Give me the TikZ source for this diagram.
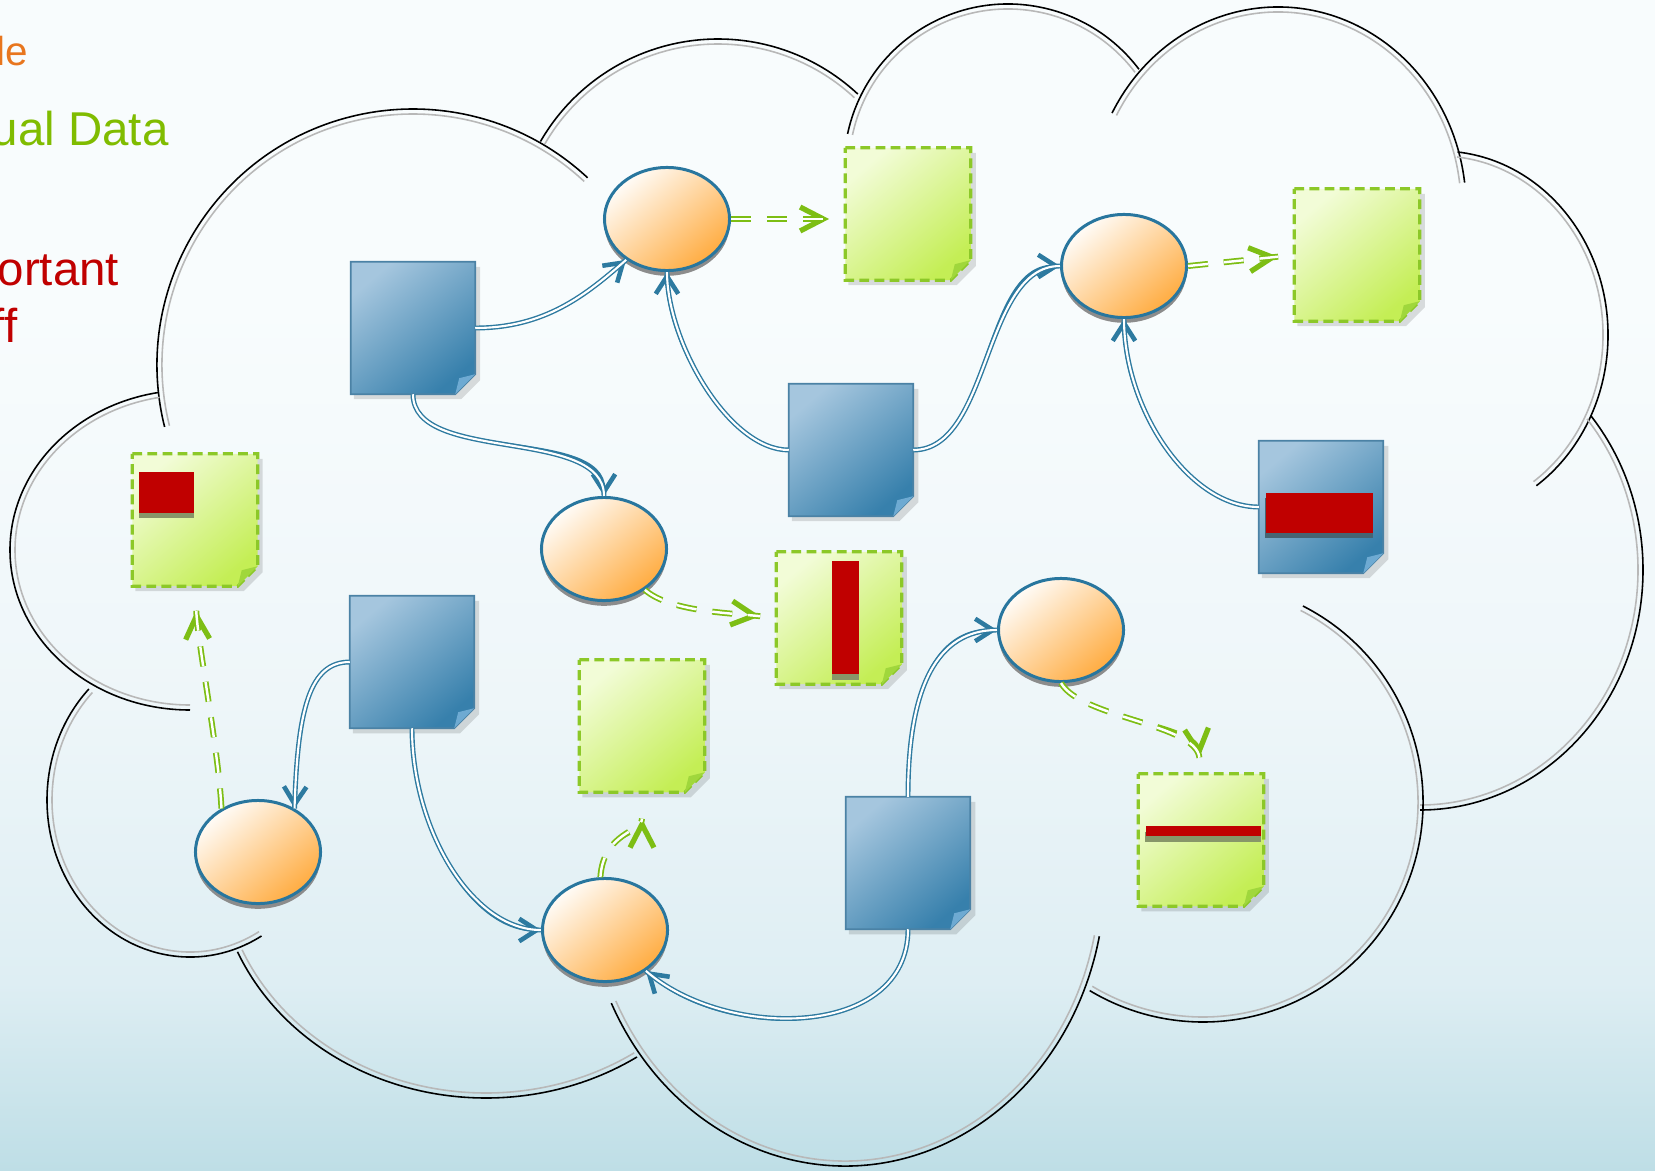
\documentclass[tikz,border=0pt]{standalone}
\usepackage{fontspec}
\setmainfont{Liberation Sans}
\usetikzlibrary{shapes.geometric,arrows.meta,shadows}

\definecolor{bgtop}{RGB}{248,252,253}
\definecolor{bgmid}{RGB}{238,246,249}
\definecolor{bglow}{RGB}{222,238,243}
\definecolor{bgbot}{RGB}{190,222,230}
\definecolor{flowblue}{RGB}{45,122,160}
\definecolor{flowgreen}{RGB}{125,190,20}
\definecolor{docA}{RGB}{165,198,222}
\definecolor{docB}{RGB}{55,128,172}
\definecolor{docedge}{RGB}{75,130,165}
\definecolor{docfoldc}{RGB}{110,170,210}
\definecolor{noteA}{RGB}{242,252,215}
\definecolor{noteB}{RGB}{196,238,85}
\definecolor{noteedge}{RGB}{140,200,40}
\definecolor{notefoldc}{RGB}{160,215,60}
\definecolor{procA}{RGB}{255,252,248}
\definecolor{procB}{RGB}{255,172,65}
\definecolor{procedge}{RGB}{40,118,158}
\definecolor{markred}{RGB}{192,0,0}
\definecolor{markshade}{RGB}{135,150,105}
\definecolor{markshadeb}{RGB}{70,100,115}
\definecolor{txtorange}{RGB}{232,118,30}
\definecolor{txtgreen}{RGB}{128,188,0}

\pgfdeclareverticalshading{slidebg}{100bp}{color(0bp)=(bgbot); color(25bp)=(bgbot); color(33bp)=(bglow); color(45bp)=(bgmid); color(62bp)=(bgtop); color(100bp)=(bgtop)}

\tikzset{
  docbox/.style={rectangle, inner sep=0pt, minimum width=1.23cm, minimum height=1.31cm},
  notebox/.style={rectangle, inner sep=0pt, minimum width=1.24cm, minimum height=1.31cm},
  docfill/.style={top color=docA, bottom color=docB, shading angle=40, draw=docedge, line width=0.45pt},
  notefill/.style={top color=noteA, bottom color=noteB, shading angle=40, draw=noteedge, line width=0.9pt, dash pattern=on 2.8pt off 1.5pt},
  proc/.style={ellipse, inner sep=0pt, minimum width=1.25cm, minimum height=1.03cm, draw=procedge, line width=0.85pt, top color=procA, bottom color=procB, shading angle=40, drop shadow={shadow xshift=0pt, shadow yshift=-1.5pt, opacity=1, fill=black!45}},
  % double lines; the solid tip comes from a plain pre-pass
  feed/.style={draw=flowblue, line width=0.4pt, double=white, double distance=0.6pt,
    preaction={draw=flowblue, line width=0.8pt, -{Straight Barb[length=5pt,width=6.4pt,line width=1.3pt]}}},
  yield/.style={draw=flowgreen, line width=0.5pt, double=white, double distance=0.7pt, dash pattern=on 5.7pt off 4.5pt, shorten >=#1,
    preaction={draw=flowgreen, line width=1pt, dash pattern=on 5.7pt off 4.5pt, shorten >=#1, -{Straight Barb[length=6.6pt,width=6.8pt,line width=1.5pt]}}},
  yield/.default=4.6pt,
  cloudline/.style={black, line width=0.45pt},
  cloudinner/.style={black!28, line width=0.45pt},
  slidetext/.style={anchor=base west, inner sep=0pt},
}

% blue source page with dog-ear, drawn round a named node
\newcommand{\srcdoc}[2]{%
  \node[docbox] (#1) at (#2) {};
  \fill[black, opacity=.13] ([shift={(3,5)}]#1.north west) -- ([shift={(5,5)}]#1.north east)
    -- ([shift={(5,-14)}]#1.south east) -- ([shift={(-14,5)}]#1.south east)
    -- ([shift={(3,5)}]#1.south west) -- cycle;
  \path[docfill] (#1.north west) -- (#1.north east) -- ([shift={(0,-20)}]#1.south east)
    -- ([shift={(-20,0)}]#1.south east) -- (#1.south west) -- cycle;
  \fill[docfoldc] ([shift={(0,-20)}]#1.south east) -- ([shift={(-20,0)}]#1.south east)
    -- ([shift={(-16,-16)}]#1.south east) -- cycle;
}
% green result note, dashed edge
\newcommand{\outnote}[2]{%
  \node[notebox] (#1) at (#2) {};
  \fill[black, opacity=.13] ([shift={(3,5)}]#1.north west) -- ([shift={(5,5)}]#1.north east)
    -- ([shift={(5,-14)}]#1.south east) -- ([shift={(-14,5)}]#1.south east)
    -- ([shift={(3,5)}]#1.south west) -- cycle;
  \path[notefill] (#1.north west) -- (#1.north east) -- ([shift={(0,-20)}]#1.south east)
    -- ([shift={(-20,0)}]#1.south east) -- (#1.south west) -- cycle;
  \fill[notefoldc] ([shift={(0,-20)}]#1.south east) -- ([shift={(-20,0)}]#1.south east)
    -- ([shift={(-16,-16)}]#1.south east) -- cycle;
}
% one puff of the cloud: centre, radii, start and end angle
\newcommand{\cloudarc}[6]{%
  \pgfmathsetmacro\sxa{#1+(#3)*cos(#5)}\pgfmathsetmacro\sya{#2+(#4)*sin(#5)}%
  \pgfmathsetmacro\sxb{#1+(#3-5)*cos(#5)}\pgfmathsetmacro\syb{#2+(#4-5)*sin(#5)}%
  \pgfmathsetmacro\rxin{#3-5}\pgfmathsetmacro\ryin{#4-5}%
  \draw[cloudline] (\sxa,\sya) arc[start angle=#5, end angle=#6, x radius=#3, y radius=#4];
  \draw[cloudinner] (\sxb,\syb) arc[start angle=#5, end angle=#6, x radius=\rxin, y radius=\ryin];
}

\begin{document}
\begin{tikzpicture}[x=0.01cm, y=-0.01cm]
    % Background and bounding box:
    \path[shading=slidebg] (0,0) rectangle (1655,1170);
    \useasboundingbox (0,0) rectangle (1655,1170);

    % Slide text running in from the left:
    \node[slidetext, text=txtorange, font=\fontsize{11.5}{13}\selectfont] (T1) at (-4,66) {le};
    \node[slidetext, text=txtgreen, font=\fontsize{13.5}{16}\selectfont] (T2) at (-9,146) {ual Data};
    \node[slidetext, text=markred, font=\fontsize{13.5}{16}\selectfont] (T3) at (-3,285) {ortant};
    \node[slidetext, text=markred, font=\fontsize{13.5}{16}\selectfont] (T4) at (-9,342) {ff};

    % Cloud outline:
    \cloudarc{413}{365}{256}{256}{166}{313}
    \cloudarc{718}{244}{205}{205}{210}{313}
    \cloudarc{1008}{168}{164}{164}{192}{323}
    \cloudarc{1278}{207}{188}{200}{208}{353}
    \cloudarc{1440}{335}{168}{184}{-84}{55}
    \cloudarc{1420}{570}{223}{240}{-40}{90}
    \cloudarc{1203}{802}{220}{220}{-63}{121}
    \cloudarc{845}{876}{260}{290}{12}{154}
    \cloudarc{486}{858}{270}{240}{56}{157}
    \cloudarc{190}{800}{143}{157}{60}{225}
    \cloudarc{190}{550}{180}{160}{90}{260}

    % Source pages:
    \srcdoc{D1}{413,328}
    \srcdoc{D2}{851,450}
    \srcdoc{D3}{412,662}
    \srcdoc{D4}{908,863}
    \srcdoc{D5}{1321,507}
    \fill[markshadeb] ([shift={(6,57)}]D5.north west) rectangle ([shift={(114,97)}]D5.north west);
    \fill[markred] ([shift={(7,52)}]D5.north west) rectangle ([shift={(114,92)}]D5.north west);

    % Result notes:
    \outnote{N1}{908,214}
    \outnote{N2}{1357,255}
    \outnote{N3}{195,520}
    \outnote{N4}{839,618}
    \outnote{N5}{642,726}
    \outnote{N6}{1201,840}
    \fill[markshade] ([shift={(7,23)}]N3.north west) rectangle ([shift={(62,64)}]N3.north west);
    \fill[markred] ([shift={(7,18)}]N3.north west) rectangle ([shift={(62,59)}]N3.north west);
    \fill[markshade] ([shift={(56,15)}]N4.north west) rectangle ([shift={(83,128)}]N4.north west);
    \fill[markred] ([shift={(56,9)}]N4.north west) rectangle ([shift={(83,122)}]N4.north west);
    \fill[markshade] ([shift={(7,58)}]N6.north west) rectangle ([shift={(123,68)}]N6.north west);
    \fill[markred] ([shift={(8,52)}]N6.north west) rectangle ([shift={(123,62)}]N6.north west);

    % Processes:
    \node[proc] (E1) at (667,219) {};
    \node[proc] (E2) at (1124,266) {};
    \node[proc] (E3) at (604,549) {};
    \node[proc] (E4) at (1061,630) {};
    \node[proc] (E5) at (258,852) {};
    \node[proc] (E6) at (605,930) {};

    % Inputs:
    \draw[feed] (D1.east) .. controls +(70,0) and +(-40,35) .. (E1.225);
    \draw[feed] (D1.south) .. controls +(0,70) and +(0,-70) .. (E3.north);
    \draw[feed] (D2.west) .. controls +(-60,0) and +(0,70) .. (E1.south);
    \draw[feed] (D2.east) .. controls +(78,0) and +(-78,0) .. (E2.west);
    \draw[feed] (D5.west) .. controls +(-70,0) and +(0,90) .. (E2.south);
    \draw[feed] (D3.west) .. controls +(-40,0) and +(3,-100) .. (E5.50);
    \draw[feed] (D3.south) .. controls +(0,100) and +(-70,0) .. (E6.west);
    \draw[feed] (D4.south) .. controls +(0,110) and +(80,70) .. (E6.-45);
    \draw[feed] (D4.north) .. controls +(0,-110) and +(-60,0) .. (E4.west);

    % Outputs:
    \draw[yield] (E1.east) -- (E1.east -| N1.west);
    \draw[yield] (E2.east) -- (N2.west);
    \draw[yield] (E3.-45) .. controls +(25,22) and +(-45,-5) .. (N4.west);
    \draw[yield] (E4.south) .. controls +(20,35) and +(-5,-50) .. (N6.north);
    \draw[yield=6.8pt] (E5.130) .. controls +(-3,-60) and +(3,60) .. (N3.south);
    \draw[yield=7.5pt] (E6.95) .. controls +(3,-45) and +(0,40) .. (N5.south);
\end{tikzpicture}
\end{document}
